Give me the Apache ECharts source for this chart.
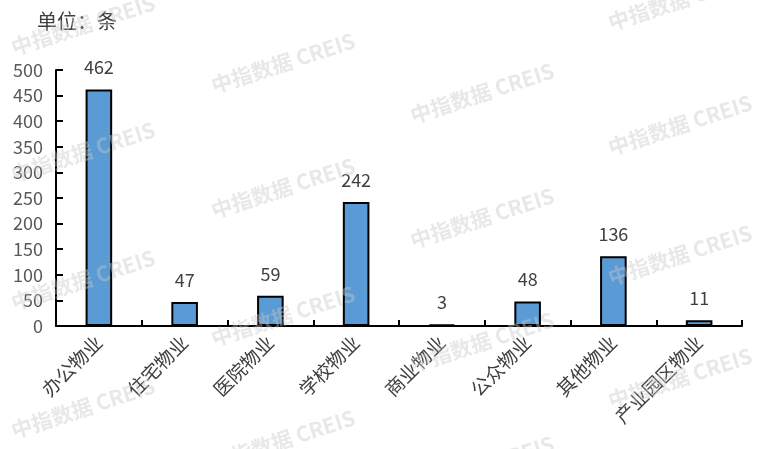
<!DOCTYPE html>
<html>
<head>
<meta charset="utf-8">
<script src="https://cdn.jsdelivr.net/npm/echarts@6/dist/echarts.min.js"></script>
<style>html,body{margin:0;padding:0;background:#fff;}#c{width:759px;height:449px;}</style>
</head>
<body>
<div id="c"></div>
<script>
var categories = ['办公物业','住宅物业','医院物业','学校物业','商业物业','公众物业','其他物业','产业园区物业'];
var values = [462, 47, 59, 242, 3, 48, 136, 11];
var yTicks = [0, 50, 100, 150, 200, 250, 300, 350, 400, 450, 500];
var unitText = '单位：条';
var watermarkText = '中指数据 CREIS';

var FONT = '"Noto Sans CJK SC", "Noto Sans", sans-serif';
var wmCenters = [
  [83,25],[83,152],[83,280],[83,408],
  [283,63],[283,188],[283,316],[283,440],
  [482,-30],[482,93],[482,218],[482,342],[482,466],
  [680,0],[680,125],[680,255],[680,378]
];
var graphics = [{
  type:'text', left:37, top:11, z:10,
  style:{text:unitText, fontSize:20, fill:'#404040', fontFamily:FONT}
}];
wmCenters.forEach(function(p){
  graphics.push({
    type:'text', x:p[0], y:p[1], rotation:18*Math.PI/180, z:100, silent:true,
    style:{text:watermarkText, fontSize:21, fontWeight:'bold', fill:'rgba(200,200,200,0.42)',
      fontFamily:FONT, align:'center', verticalAlign:'middle'}
  });
});

var chart = echarts.init(document.getElementById('c'));
chart.setOption({
  animation:false,
  grid:{left:56, right:17, top:70, bottom:123, containLabel:false},
  xAxis:{
    type:'category', data:categories, boundaryGap:true,
    axisLine:{lineStyle:{color:'#000', width:2}},
    axisTick:{show:true, inside:true, length:6, alignWithLabel:false, lineStyle:{color:'#000', width:2}},
    axisLabel:{rotate:45, interval:0, margin:13, fontSize:19, color:'#404040', fontFamily:FONT}
  },
  yAxis:{
    type:'value', min:yTicks[0], max:yTicks[yTicks.length-1], interval:yTicks[1]-yTicks[0],
    splitLine:{show:false},
    axisLine:{show:true, lineStyle:{color:'#000', width:2}},
    axisTick:{show:true, inside:true, length:7, lineStyle:{color:'#000', width:2}},
    axisLabel:{margin:13, fontSize:18, color:'#595959', fontFamily:FONT}
  },
  series:[{
    type:'bar', data:values, barWidth:'31%',
    itemStyle:{color:'#5b9bd5', borderColor:'#000', borderWidth:2},
    label:{show:true, position:'top', distance:13, fontSize:18, color:'#404040', fontFamily:FONT}
  }],
  graphic:graphics
});
</script>
</body>
</html>
